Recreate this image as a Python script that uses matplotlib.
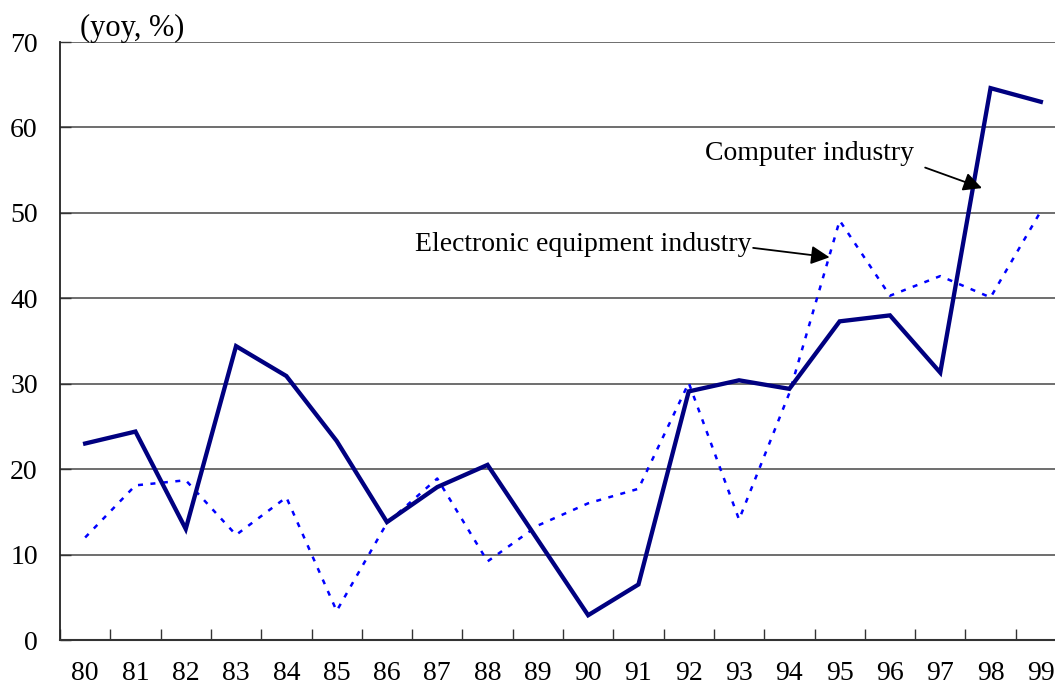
import numpy as np
import matplotlib.pyplot as plt

years = ['80', '81', '82', '83', '84', '85', '86', '87', '88', '89',
         '90', '91', '92', '93', '94', '95', '96', '97', '98', '99']
computer = [23.0, 24.4, 13.0, 34.4, 30.9, 23.3, 13.8, 17.9, 20.5, 11.7,
            2.9, 6.5, 29.1, 30.4, 29.4, 37.3, 38.0, 31.3, 64.6, 63.0]
electronic = [12.0, 18.1, 18.7, 12.3, 16.7, 3.4, 13.7, 18.9, 9.2, 13.4,
              16.0, 17.7, 30.1, 14.1, 28.9, 49.1, 40.3, 42.6, 40.1, 50.2]

plt.rcParams['font.family'] = ['Liberation Serif', 'DejaVu Serif']
fs = 20

W, H = 1055, 692
fig = plt.figure(figsize=(W / 100, H / 100), dpi=100)
# plot area: left spine at 60px, bottom 640px, top 42px; last category runs past the edge
ax = fig.add_axes([60 / W, 1 - 640 / H, 1006 / W, 598 / H])

x = np.arange(len(years))
ax.plot(x, electronic, color='#0000ff', lw=1.8, linestyle=(0, (2.0, 3.0)), zorder=3)
ax.plot(x, computer, color='#000080', lw=3.1, zorder=4, solid_joinstyle='miter')

ax.set_xlim(-0.5, len(years) - 0.5)
ax.set_ylim(0, 70)

# tick marks between categories, labels at category centres
ax.set_xticks(np.arange(-0.5, len(years), 1.0))
ax.set_xticklabels([])
ax.set_xticks(x, minor=True)
ax.set_xticklabels(years, minor=True, fontsize=fs)
ax.tick_params(axis='x', which='major', direction='in', length=8, width=1, color='#333333')
ax.tick_params(axis='x', which='minor', length=0, pad=15)

ax.set_yticks(np.arange(0, 71, 10))
ax.set_yticklabels([str(v) for v in range(0, 71, 10)], fontsize=fs)
ax.tick_params(axis='y', direction='in', length=8, width=1, pad=16, color='#333333')
ax.yaxis.grid(True, color='#555555', lw=1.2)
ax.set_axisbelow(True)

for s in ['top', 'right']:
    ax.spines[s].set_visible(False)
ax.spines['left'].set_color('#222222')
ax.spines['left'].set_linewidth(1.3)
ax.spines['bottom'].set_color('#333333')
ax.spines['bottom'].set_linewidth(1.5)

fig.text(80 / W, 1 - 28 / H, '(yoy, %)', fontsize=22, va='center', ha='left')

# labels with arrows
ax.text(12.33, 57.0, 'Computer industry', fontsize=fs, va='center', ha='left')
ax.annotate('', xy=(17.83, 52.9), xytext=(16.7, 55.3),
            arrowprops=dict(arrowstyle='-|>', color='black', lw=1.3,
                            mutation_scale=28, shrinkA=0, shrinkB=0), zorder=6)
ax.text(6.56, 46.3, 'Electronic equipment industry', fontsize=fs, va='center', ha='left')
ax.annotate('', xy=(14.8, 44.8), xytext=(13.28, 45.9),
            arrowprops=dict(arrowstyle='-|>', color='black', lw=1.3,
                            mutation_scale=28, shrinkA=0, shrinkB=0), zorder=6)

fig.savefig('out.png', dpi=100)
